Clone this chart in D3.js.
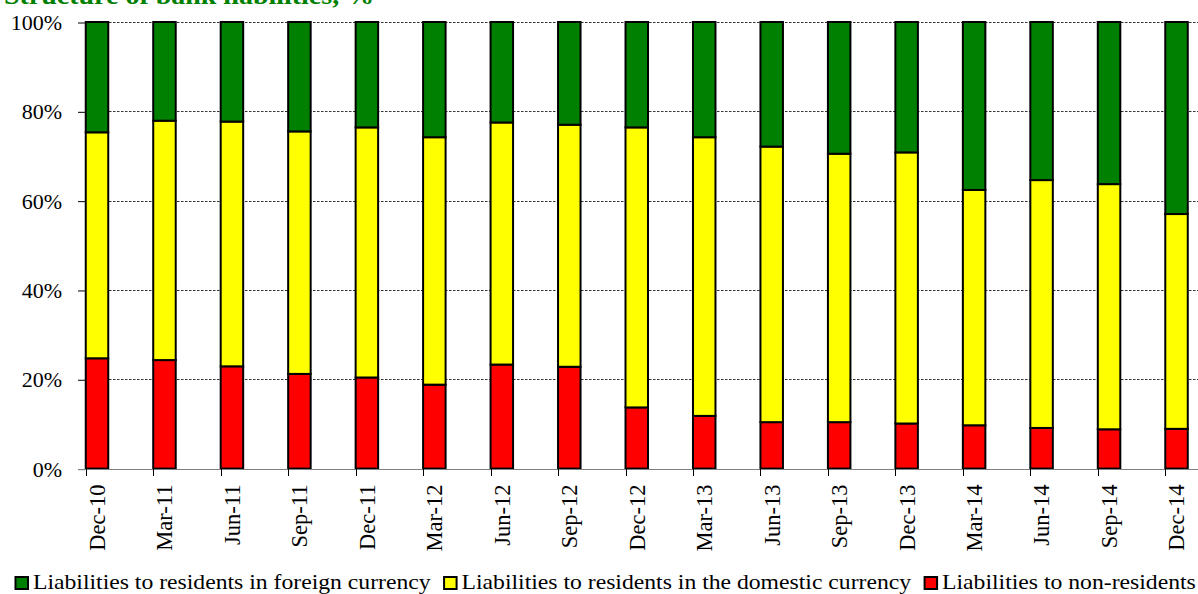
<!DOCTYPE html>
<html>
<head>
<meta charset="utf-8">
<script src="https://cdn.jsdelivr.net/npm/d3@7"></script>
<style>
  html, body { margin: 0; padding: 0; background: #fff; }
  svg { display: block; }
  text { font-family: "Liberation Serif", "Times New Roman", serif; }
</style>
</head>
<body>
<svg id="chart" width="1198" height="594"></svg>
<script>
// Quarterly structure of bank liabilities, percent of total
const categories = ["Dec-10","Mar-11","Jun-11","Sep-11","Dec-11","Mar-12","Jun-12","Sep-12",
  "Dec-12","Mar-13","Jun-13","Sep-13","Dec-13","Mar-14","Jun-14","Sep-14","Dec-14"];
const nonResidents      = [24.7,24.3,22.9,21.2,20.4,18.8,23.3,22.8,13.7,11.8,10.4,10.4,10.1,9.7,9.1,8.8,8.9];
const domesticCurrency  = [50.6,53.6,54.8,54.3,56.0,55.4,54.2,54.2,62.7,62.4,61.7,60.1,60.7,52.7,55.5,54.9,48.1];
const foreignCurrency   = [24.7,22.1,22.3,24.5,23.6,25.8,22.5,23.0,23.6,25.8,27.9,29.5,29.2,37.6,35.4,36.3,43.0];
const yTicks = [0, 20, 40, 60, 80, 100];

const seriesKeys   = ["nonResidents", "domesticCurrency", "foreignCurrency"];
const seriesColors = { nonResidents: "#ff0000", domesticCurrency: "#ffff00", foreignCurrency: "#008000" };
const legendOrder  = [
  { key: "foreignCurrency",  label: "Liabilities to residents in foreign currency" },
  { key: "domesticCurrency", label: "Liabilities to residents in the domestic currency" },
  { key: "nonResidents",     label: "Liabilities to non-residents" }
];

const rows = categories.map((c, i) => ({
  category: c,
  nonResidents: nonResidents[i],
  domesticCurrency: domesticCurrency[i],
  foreignCurrency: foreignCurrency[i]
}));

const svg = d3.select("#chart");

const step = 67.47, firstCenter = 97, barWidth = 22.5;
const pad = 1 - barWidth / step;
const x = d3.scaleBand()
  .domain(categories)
  .range([firstCenter - step / 2, firstCenter + (categories.length - 0.5) * step])
  .paddingInner(pad)
  .paddingOuter(pad / 2);

const y = d3.scaleLinear().domain([0, 100]).range([468.6, 22]);

const gridLeft = 78, axisX = 85, gridRight = 1198;
const textStretch = 1.076;

// Title (partly above the top edge)
svg.append("text")
  .attr("transform", `translate(4,4) scale(${textStretch},1)`)
  .attr("fill", "#008000")
  .attr("font-weight", "bold")
  .attr("font-size", 26)
  .text("Structure of bank liabilities, %");

// Horizontal gridlines
svg.append("g").selectAll("line")
  .data(yTicks.filter(d => d > 0))
  .join("line")
  .attr("x1", axisX).attr("x2", gridRight)
  .attr("y1", d => Math.round(y(d)) + 0.5).attr("y2", d => Math.round(y(d)) + 0.5)
  .attr("stroke", "#333")
  .attr("stroke-width", 1)
  .attr("stroke-dasharray", "2.5,1.5");

// Y axis: ticks and percentage labels
const yAxis = svg.append("g")
  .attr("transform", `translate(${axisX},0.5)`)
  .call(d3.axisLeft(y).tickValues(yTicks).tickFormat(d => d + "%").tickSize(axisX - gridLeft).tickPadding(16));
yAxis.select(".domain").remove();
yAxis.selectAll(".tick line").attr("stroke", "#000");
yAxis.selectAll(".tick text")
  .attr("font-family", "'Liberation Serif', 'Times New Roman', serif")
  .attr("font-size", 22)
  .attr("fill", "#000");

// Stacked bars
const stacked = d3.stack().keys(seriesKeys)(rows);
svg.append("g").selectAll("g")
  .data(stacked)
  .join("g")
  .attr("fill", d => seriesColors[d.key])
  .selectAll("rect")
  .data(d => d)
  .join("rect")
  .attr("x", d => x(d.data.category))
  .attr("width", x.bandwidth())
  .attr("y", d => y(d[1]))
  .attr("height", d => y(d[0]) - y(d[1]))
  .attr("stroke", "#000")
  .attr("stroke-width", 2);

// Baseline and category axis
svg.append("line")
  .attr("x1", gridLeft).attr("x2", gridRight)
  .attr("y1", Math.round(y(0)) + 0.5).attr("y2", Math.round(y(0)) + 0.5)
  .attr("stroke", "#808080").attr("stroke-width", 1);

const xAxis = svg.append("g")
  .attr("transform", `translate(0,${Math.round(y(0)) + 0.5})`)
  .call(d3.axisBottom(x).tickSize(0).tickSizeOuter(0));
xAxis.select(".domain").remove();
xAxis.selectAll(".tick text")
  .attr("font-family", "'Liberation Serif', 'Times New Roman', serif")
  .attr("font-size", 22.5)
  .attr("fill", "#000")
  .attr("text-anchor", "end")
  .attr("transform", "translate(0,15) rotate(-90)")
  .attr("x", 0).attr("y", 0).attr("dy", "0.35em");

// Tick marks at the left edge of each bar
svg.append("g").selectAll("line")
  .data(categories)
  .join("line")
  .attr("x1", d => Math.round(x(d)) + 0.5).attr("x2", d => Math.round(x(d)) + 0.5)
  .attr("y1", Math.round(y(0))).attr("y2", Math.round(y(0)) + 7)
  .attr("stroke", "#000").attr("stroke-width", 1);

// Legend
const legend = svg.append("g").attr("transform", "translate(15,589)");
let cursor = 0;
legendOrder.forEach(item => {
  const g = legend.append("g").attr("transform", `translate(${cursor},0)`);
  g.append("rect")
    .attr("x", 0.5).attr("y", -12)
    .attr("width", 12.5).attr("height", 12)
    .attr("fill", seriesColors[item.key])
    .attr("stroke", "#000").attr("stroke-width", 2);
  const t = g.append("text")
    .attr("transform", `translate(18,0) scale(${textStretch},1)`)
    .attr("font-size", 22)
    .attr("fill", "#000")
    .text(item.label);
  cursor += 18 + t.node().getComputedTextLength() * textStretch + 13;
});
</script>
</body>
</html>
